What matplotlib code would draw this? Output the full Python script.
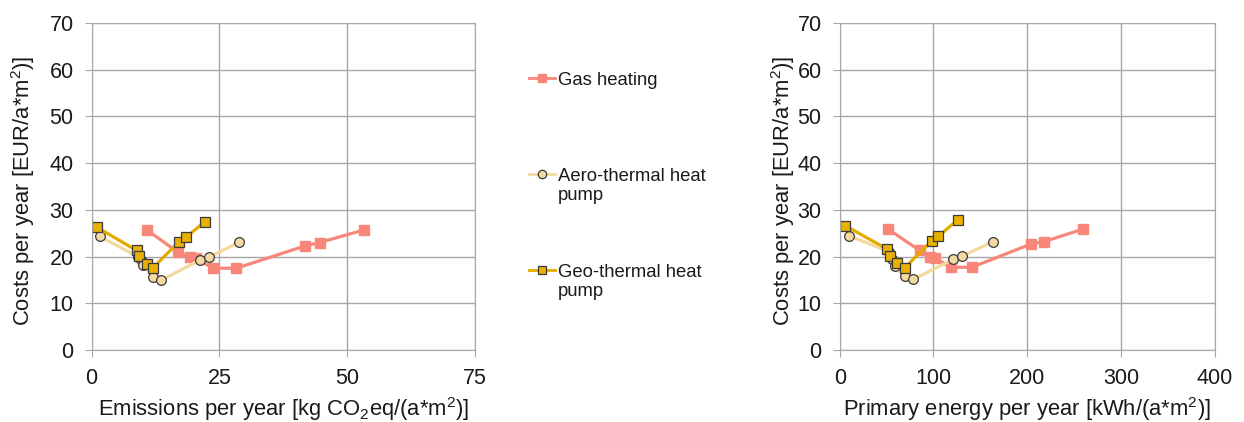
import matplotlib
matplotlib.use("Agg")
import matplotlib.pyplot as plt
from matplotlib.lines import Line2D

plt.rcParams['font.family'] = ['Liberation Sans', 'DejaVu Sans']
plt.rcParams['mathtext.fontset'] = 'custom'
plt.rcParams['mathtext.rm'] = 'Liberation Sans'
plt.rcParams['mathtext.it'] = 'Liberation Sans:italic'

# emissions [kg CO2eq/(a*m2)] vs costs [EUR/(a*m2)]
gas_em = [10.8, 16.9, 19.2, 20.5, 23.7, 28.3, 41.8, 44.6, 53.3]
gas_em_cost = [25.7, 20.9, 19.8, 19.6, 17.5, 17.5, 22.3, 23.0, 25.7]
aero_em = [1.6, 9.0, 9.8, 10.1, 12.1, 13.6, 21.2, 23.0, 28.9]
aero_em_cost = [24.3, 20.0, 19.0, 18.2, 15.7, 14.9, 19.3, 19.9, 23.1]
geo_em = [1.0, 8.8, 9.3, 10.8, 12.0, 17.1, 18.4, 22.1]
geo_em_cost = [26.3, 21.3, 20.1, 18.4, 17.6, 23.2, 24.1, 27.4]

# primary energy [kWh/(a*m2)] vs costs [EUR/(a*m2)]
gas_pe = [51.5, 85.3, 96.0, 101.2, 119.0, 141.0, 204.0, 218.0, 259.7]
gas_pe_cost = [25.9, 21.3, 19.8, 19.7, 17.7, 17.7, 22.7, 23.2, 25.9]
aero_pe = [9.6, 53.0, 56.0, 58.6, 69.3, 78.2, 120.9, 130.5, 163.6]
aero_pe_cost = [24.5, 21.0, 19.5, 18.0, 15.9, 15.1, 19.4, 20.1, 23.2]
geo_pe = [6.1, 50.5, 53.4, 61.6, 69.3, 98.5, 104.9, 126.2]
geo_pe_cost = [26.6, 21.6, 20.1, 18.7, 17.6, 23.4, 24.3, 27.9]

series_names = ["Gas heating", "Aero-thermal heat\npump", "Geo-thermal heat\npump"]

gas_style = dict(color='#F8877A', lw=2.3, marker='s', ms=7.5, mfc='#F8877A', mec='#F8877A')
aero_style = dict(color='#F5D89E', lw=2.3, marker='o', ms=7, mfc='#F5D9A3', mec='#3a3a3a', mew=0.9)
geo_style = dict(color='#E3AA00', lw=2.3, marker='s', ms=7.5, mfc='#E8B000', mec='#3a3a3a', mew=0.9)

W, H = 1244, 422
fig = plt.figure(figsize=(W / 100, H / 100), dpi=100)
ax1 = fig.add_axes([0.0737, 0.1706, 0.308, 0.775])
ax2 = fig.add_axes([0.675, 0.1706, 0.3015, 0.775])


def style_axes(ax, xmax, xstep, xlabel, ylab_x):
    ax.set_xlim(0, xmax)
    ax.set_ylim(0, 70)
    ax.set_xticks(range(0, xmax + 1, xstep))
    ax.set_yticks(range(0, 71, 10))
    ax.grid(True, color='#a6a6a6', lw=1.0)
    ax.set_axisbelow(True)
    for s in ax.spines.values():
        s.set_color('#a6a6a6')
    ax.tick_params(colors='#a6a6a6', labelcolor='#1a1a1a', labelsize=15.5,
                   length=5, direction='out', pad=8)
    ax.set_xlabel(xlabel, fontsize=15.8, color='#1a1a1a', labelpad=4)
    ax.set_ylabel("Costs per year [EUR/a*m$^2$)]", fontsize=15.8, color='#1a1a1a',
                  va='center')
    ax.yaxis.set_label_coords(ylab_x, 0.485)


ax1.plot(gas_em, gas_em_cost, **gas_style)
ax1.plot(aero_em, aero_em_cost, **aero_style)
ax1.plot(geo_em, geo_em_cost, **geo_style)
style_axes(ax1, 75, 25, "Emissions per year [kg CO$_2$eq/(a*m$^2$)]", -0.179)

ax2.plot(gas_pe, gas_pe_cost, **gas_style)
ax2.plot(aero_pe, aero_pe_cost, **aero_style)
ax2.plot(geo_pe, geo_pe_cost, **geo_style)
style_axes(ax2, 400, 100, "Primary energy per year [kWh/(a*m$^2$)]", -0.152)

# legend entries between the two panels, handle level with the first text line
legend_rows = [78, 174, 270]
for style, name, ypx in zip([gas_style, aero_style, geo_style], series_names, legend_rows):
    yf = 1 - ypx / H
    handle = Line2D([529 / W, 542 / W, 555 / W], [yf, yf, yf], transform=fig.transFigure,
                    markevery=[1], **style)
    handle.set_markersize(6)
    handle.set_linewidth(2.0)
    fig.add_artist(handle)
    fig.text(558 / W, 1 - (ypx - 6) / H, name, fontsize=13.3, color='#1a1a1a',
             va='top', ha='left', linespacing=1.15)

fig.savefig("out.png", dpi=100)
